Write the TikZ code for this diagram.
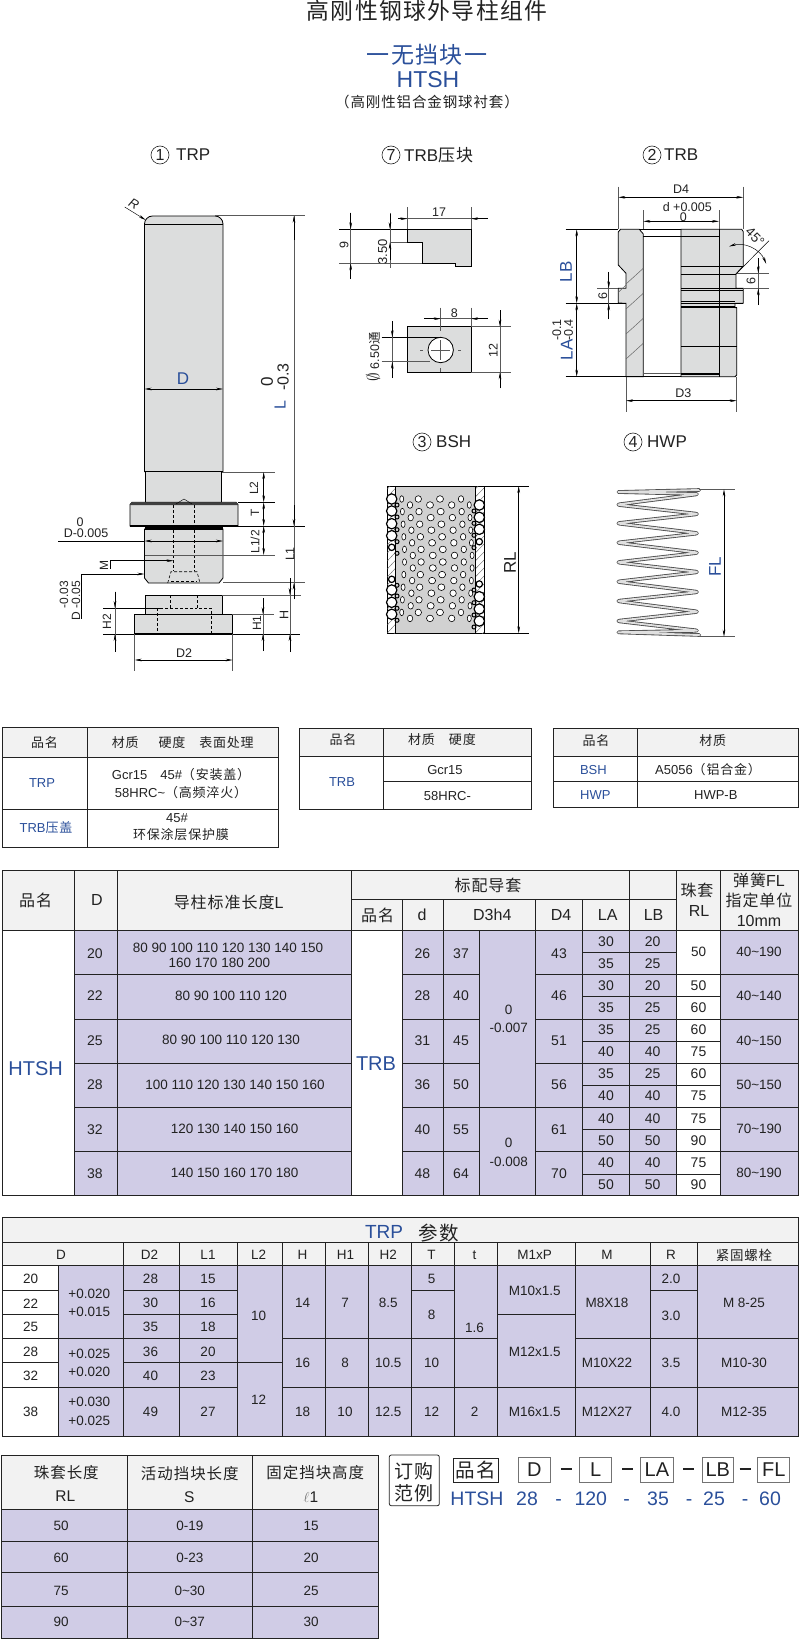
\documentclass[tikz,border=0pt]{standalone}
\usepackage{fontspec}
\setmainfont{Liberation Sans}
\newfontfamily\cjk[LetterSpace=6]{Noto Sans CJK SC}
\usetikzlibrary{arrows.meta,calc}
\newcommand{\fsz}[1]{\fontsize{#1}{#1}\selectfont}
\definecolor{partgray}{HTML}{DCDDDD}
\definecolor{lav}{HTML}{D0CCE6}
\definecolor{hdr}{HTML}{F2F2F2}
\definecolor{navy}{HTML}{2A4F9A}
\definecolor{ink}{HTML}{222222}
\tikzset{
  part/.style={draw=black,line width=.8pt,fill=partgray},
  hid/.style={draw=black,line width=.6pt,dash pattern=on 3pt off 2pt},
  dim/.style={draw=black,line width=.45pt,<->,>={Stealth[length=7pt,width=2.6pt]}},
  ptr/.style={draw=black,line width=.45pt,->,>={Stealth[length=7pt,width=2.6pt]}},
  ext/.style={draw=black!65,line width=.5pt},
  txt/.style={inner sep=0pt,text=ink,font=\fsz{13}},
  rot/.style={txt,rotate=90},
  blue/.style={inner sep=0pt,text=navy},
  numc/.style={circle,draw=ink,line width=.6pt,inner sep=0pt,minimum size=18pt,text=ink,font=\fsz{16}},
  ttl/.style={inner sep=0pt,anchor=west,text=ink,font=\fsz{17}},
  tline/.style={draw=ink,line width=.8pt},
  cellt/.style={inner sep=0pt,text=ink,font=\fsz{13.5}},
  headt/.style={inner sep=0pt,text=ink,font=\fsz{16}},
  obox/.style={draw=ink,line width=.8pt},
}
\begin{document}
\begin{tikzpicture}[x=1pt,y=-1pt]
  \useasboundingbox (0,0) rectangle (800,1640);
  %% titles
  \node[txt,font=\fsz{22.8}] (title) at (427,11) {\cjk 高刚性钢球外导柱组件};
  \node[blue,font=\fsz{23}] (sub1) at (427,55) {\cjk 一无挡块一};
  \node[blue,font=\fsz{23}] (sub2) at (428,80) {HTSH};
  \node[txt,font=\fsz{14.5}] (sub3) at (427,102) {\cjk （高刚性铝合金钢球衬套）};
  \foreach \cx/\cy/\cn/\tx/\tl [count=\ci] in {160/155/1/176/TRP,391/155/7/404/{TRB{\cjk 压块}},652/155/2/664/TRB,422/442/3/436/BSH,633/442/4/647/HWP}{
    \node[numc] (num\ci) at (\cx,\cy) {\cn};
    \node[ttl] (lab\ci) at (\tx,\cy) {\tl};
  }
  %% TRP post
  \draw[part] (144.5,471.7) -- (144.5,224) arc(180:270:8) -- (215,216) arc(270:360:8) -- (223,471.7) -- cycle;
  \draw[line width=.7pt] (144.5,224) -- (223,224);
  \draw[part] (145.7,471.7) rectangle (221.7,502.3);
  \draw[line width=1.2pt] (144.5,471.7) -- (223,471.7);
  \draw[part] (132,502.3) -- (236,502.3) -- (238,504.5) -- (238,526) -- (130,526) -- (130,504.5) -- cycle;
  \fill[black!75] (132,502.3) -- (236,502.3) -- (238,505) -- (130,505) -- cycle;
  \draw[part] (144.5,529) -- (223,529) -- (223,578) -- (219,583) -- (148.5,583) -- (144.5,578) -- cycle;
  \fill[black] (145,526) rectangle (223,529.5);
  \draw[line width=1.2pt] (130,526) -- (238,526);
  \draw[hid] (173.5,505) -- (173.5,571);
  \draw[hid] (194.3,505) -- (194.3,571);
  \draw[line width=.4pt] (176,504) -- (184,499) -- (192,504);
  \draw[hid] (167.7,583) -- (171,571.7) -- (197,571.7) -- (200,583);
  \draw[hid] (171,581.7) -- (197,581.7);
  %% base
  \draw[part] (145.7,595) rectangle (222.3,614.3);
  \draw[part] (134.7,614.3) rectangle (232.7,634);
  \draw[line width=1.2pt] (134.7,634) -- (232.7,634);
  \draw[hid] (170,595) -- (170,608) -- (161.7,608);
  \draw[hid] (197,595) -- (197,608) -- (211,608) -- (211,634);
  \draw[hid] (170,608) -- (197,608);
  \draw[hid] (157,608) -- (157,634);
  %% TRP dimensions
  \draw[ptr] (124.7,207) -- (145.7,220);
  \node[txt,rotate=-30,font=\fsz{13}] (dimR) at (134,204) {\itshape R};
  \draw[dim] (144.5,389) -- (223,389);
  \node[blue,font=\fsz{17}] (dimD) at (183,379) {D};
  \draw[ext] (215,215.7) -- (305,215.7);
  \draw[ext,black] (238,526) -- (305,526);
  \draw[ext] (223,582.7) -- (305,582.7);
  \draw[ext] (222,595) -- (300.7,595);
  \draw[ext] (222,472) -- (275,472);
  \draw[ext,black] (238,502.3) -- (275,502.3);
  \draw[ext] (144.5,555) -- (275,555);
  \draw[ext,line width=.8pt] (294,216) -- (294,599);
  \draw[ptr] (294,240) -- (294,215.7);
  \draw[ptr] (294,505) -- (294,526);
  \draw[ptr] (294,599) -- (294,582.7);
  \node[blue,rotate=90,font=\fsz{16}] (dimL) at (280,405) {L};
  \node[rot,font=\fsz{17}] (dimL0) at (267,382) {0};
  \node[rot,font=\fsz{16}] (dimL3) at (283,377) {-0.3};
  \node[rot,font=\fsz{12.5}] (dimL1) at (290,554) {L1};
  \draw[dim] (263.7,472) -- (263.7,502.3);
  \draw[dim] (263.7,502.3) -- (263.7,526);
  \draw[dim] (263.7,526) -- (263.7,555);
  \node[rot,font=\fsz{12}] (dimL2) at (254,488) {L2};
  \node[rot,font=\fsz{12}] (dimT) at (255,513) {T};
  \node[rot,font=\fsz{12}] (dimL12) at (255,541.7) {L1/2};
  \draw[ext] (232,614.3) -- (274,614.3);
  \draw[ext,black] (103,634) -- (300,634);
  \draw[ext] (263,598) -- (263,651);
  \draw[ptr] (263,598) -- (263,614.3);
  \draw[ptr] (263,651) -- (263,634);
  \node[rot,font=\fsz{12}] (dimH1) at (257,623) {H1};
  \draw[ext] (290,578) -- (290,652);
  \draw[ptr] (290,578) -- (290,595);
  \draw[ptr] (290,652) -- (290,634);
  \node[rot,font=\fsz{12.5}] (dimH) at (284,615) {H};
  \draw[ext,black] (103.3,608) -- (161.7,608);
  \draw[ext] (115,591.7) -- (115,651.7);
  \draw[ptr] (115,591.7) -- (115,608);
  \draw[ptr] (115,651.7) -- (115,634);
  \node[rot,font=\fsz{12}] (dimH2) at (107,621.7) {H2};
  \draw[ext] (134.7,634) -- (134.7,670.7);
  \draw[ext] (232.7,634) -- (232.7,670.7);
  \draw[dim] (134.7,660) -- (232.7,660);
  \node[txt,font=\fsz{12.5}] (dimD2) at (184,653) {D2};
  \draw[ext,black] (58,541) -- (144.5,541);
  \draw[dim] (144.5,541) -- (223,541);
  \node[txt,font=\fsz{12.5}] (dimD0) at (80,522) {0};
  \node[txt,font=\fsz{12.5}] (dimD5) at (86,533.5) {D-0.005};
  \draw[ptr,<-] (173.5,560.7) -- (110,560.7) -- (110,569);
  \node[rot,font=\fsz{12}] (dimM) at (104,565) {M};
  \draw[ptr,<-] (144.5,574) -- (81.7,574) -- (81.7,619);
  \node[rot,anchor=east,font=\fsz{12}] (dimD3) at (64,581) {-0.03};
  \node[rot,anchor=east,font=\fsz{12}] (dimD4) at (76,581) {D -0.05};
  %% TRB press block
  \draw[part] (407.3,229.3) -- (471,229.3) -- (471,266) -- (455.7,266) -- (455.7,263.3) -- (422.3,263.3) -- (422.3,242.3) -- (407.3,242.3) -- cycle;
  \draw[ext] (407.3,207.3) -- (407.3,229.3);
  \draw[ext] (471,207.3) -- (471,229.3);
  \draw[ext] (398,218.7) -- (487.7,218.7);
  \draw[ptr] (398,218.7) -- (407.3,218.7);
  \draw[ptr] (487.7,218.7) -- (471,218.7);
  \node[txt,font=\fsz{12.5}] (blk17) at (439,212) {17};
  \draw[ext,black] (339,229.3) -- (407.3,229.3);
  \draw[ext] (339,263.3) -- (422.3,263.3);
  \draw[ext] (350.7,212.7) -- (350.7,279);
  \draw[ptr] (350.7,212.7) -- (350.7,229.3);
  \draw[ptr] (350.7,279) -- (350.7,263.3);
  \node[rot,font=\fsz{12.5}] (blk9) at (344,245) {9};
  \draw[ext] (390,212.7) -- (390,268);
  \draw[ext] (390,242.3) -- (407.3,242.3);
  \draw[ptr] (390,214) -- (390,229.3);
  \draw[ptr] (390,260) -- (390,242.3);
  \node[rot,font=\fsz{13}] (blk35) at (382.7,251.7) {3.50};
  \draw[part] (407.3,326.7) rectangle (471,372.3);
  \draw[draw=black,fill=white,line width=.8pt] (440.7,350) circle (12.7);
  \draw[ext] (431,350) -- (450.4,350);
  \draw[ext] (440.7,340) -- (440.7,360);
  \draw[ext] (420,350) -- (423,350);
  \draw[ext] (458,350) -- (461,350);
  \draw[ext] (440.7,368) -- (440.7,372);
  \draw[ext] (440.7,307.7) -- (440.7,331);
  \draw[ext] (471,307.7) -- (471,326.7);
  \draw[ext] (424,318.7) -- (487.7,318.7);
  \draw[ptr] (424,318.7) -- (440.7,318.7);
  \draw[ptr] (487.7,318.7) -- (471,318.7);
  \node[txt,font=\fsz{12.5}] (blk8) at (454.3,313.3) {8};
  \draw[ext] (471,326.7) -- (511,326.7);
  \draw[ext] (471,372.3) -- (511,372.3);
  \draw[ext] (500,310) -- (500,388.3);
  \draw[ptr] (500,310) -- (500,326.7);
  \draw[ptr] (500,388.3) -- (500,372.3);
  \node[rot,font=\fsz{12.5}] (blk12) at (493.3,350.7) {12};
  \draw[ext,black] (381.7,337.3) -- (440.7,337.3);
  \draw[ext] (381.7,361.7) -- (430,361.7);
  \draw[ext] (392.3,321) -- (392.3,378);
  \draw[ptr] (392.3,321) -- (392.3,337.3);
  \draw[ptr] (392.3,378) -- (392.3,361.7);
  \node[rot,font=\fsz{12.5}] (blkp) at (373,356.7) {{\fsz{16}$\emptyset$} 6.50{\cjk 通}};
  %% TRB bush
  \draw[part] (618.3,232) -- (620.5,229.3) -- (639.3,229.3) -- (643.3,234) -- (643.3,376.7) -- (626,376.7) -- (626,303.3) -- (618.3,303) -- (618.3,288.3) -- (626,288.3) -- (626,273.3) -- (618.3,265) -- cycle;
  \foreach \ya/\yb in {284/268.3,309/293.3,334/318.3,359/343.3}
    \draw[draw=black!60,line width=.5pt] (626,\ya) -- (643.3,\yb);
  \draw[draw=black!60,line width=.5pt] (618.3,292.3) -- (626,285);
  \draw[part] (681,229.3) -- (741.7,229.3) -- (743.3,231.7) -- (743.3,266) -- (736,274) -- (736,288.3) -- (743.3,288.3) -- (743.3,303.3) -- (735,303.3) -- (735,307.7) -- (736.7,307.7) -- (736.7,375) -- (735,376.7) -- (681,376.7) -- cycle;
  \draw[line width=.7pt] (719,229.3) -- (719,376.7);
  \draw[line width=.6pt] (639,229.3) -- (681,229.3);
  \draw[line width=.6pt] (643.3,236.7) -- (719,236.7);
  \draw[ext] (643.3,373.3) -- (681,373.3);
  \draw[line width=.8pt] (626,376.7) -- (681,376.7);
  \foreach \yy/\xe/\ww in {266/743.3/.7,274/736/.7,288.3/743.3/.9,290.7/743.3/.9,301.7/735/.7,303.3/743.3/.9,306/735/.7,307.7/736.7/.9,346.7/736.7/.6,374/719/1.6}
    \draw[line width=\ww pt] (681,\yy) -- (\xe,\yy);
  \draw[ext] (618.3,186.7) -- (618.3,229.3);
  \draw[ext] (743.3,186.7) -- (743.3,229.3);
  \draw[dim] (618.3,197.3) -- (743.3,197.3);
  \node[txt,font=\fsz{12.5}] (trbD4) at (681,189) {D4};
  \draw[ext] (643.3,210) -- (643.3,229.3);
  \draw[ext] (719,210) -- (719,229.3);
  \draw[dim] (643.3,221.3) -- (719,221.3);
  \node[txt,font=\fsz{12.5}] (trbd) at (687.3,207.3) {d +0.005};
  \node[txt,font=\fsz{12.5}] (trbd0) at (683.3,217.3) {0};
  \draw[ext,black] (565.7,229.3) -- (618.3,229.3);
  \draw[ext,black] (565.7,303.3) -- (626,303.3);
  \draw[ext,black] (565.7,376.7) -- (626,376.7);
  \draw[dim] (576.7,229.3) -- (576.7,303.3);
  \draw[dim] (576.7,303.3) -- (576.7,376.7);
  \node[blue,rotate=90,font=\fsz{17}] (trbLB) at (566,271.7) {LB};
  \node[blue,rotate=90,font=\fsz{17}] (trbLA) at (566.7,350) {LA};
  \node[rot,font=\fsz{12.5}] (trbA1) at (556.7,330) {-0.1};
  \node[rot,font=\fsz{12.5}] (trbA4) at (568.5,330) {-0.4};
  \draw[ext] (597.3,288.3) -- (618.3,288.3);
  \draw[ext] (608.7,271.7) -- (608.7,319.3);
  \draw[ptr] (608.7,272) -- (608.7,288.3);
  \draw[ptr] (608.7,319.3) -- (608.7,303.3);
  \node[rot,font=\fsz{12.5}] (trb6l) at (602.7,295.7) {6};
  \draw[ext] (736,273.3) -- (769.3,273.3);
  \draw[ext] (743,288.3) -- (769.3,288.3);
  \draw[ext] (758.3,258.3) -- (758.3,305);
  \draw[ptr] (758.3,258.3) -- (758.3,273.3);
  \draw[ptr] (758.3,305) -- (758.3,288.3);
  \node[rot,font=\fsz{12.5}] (trb6r) at (751,281) {6};
  \draw[line width=.5pt] (736,274) -- (769,240.7);
  \draw[dim] ($(738.3,275)+(-108:30)$) arc(-108:-22:30);
  \node[txt,rotate=-45,font=\fsz{13.5}] (trb45) at (755,236.7) {45°};
  \draw[ext] (626,376.7) -- (626,411.7);
  \draw[ext] (736.7,376.7) -- (736.7,411.7);
  \draw[dim] (626,400.7) -- (736.7,400.7);
  \node[txt,font=\fsz{12.5}] (trbD3) at (683.3,393.3) {D3};
  %% BSH ball sleeve
  \draw[draw=black,line width=.8pt,fill=white] (387.3,486) rectangle (484,633.3);
  \begin{scope}
    \clip (387.3,486) rectangle (484,633.3);
    \foreach \hh in {480,488,...,640}{
      \draw[black!60,line width=.4pt] (387.3,\hh+9) -- (395.7,\hh);
      \draw[black!60,line width=.4pt] (475.3,\hh+9) -- (484,\hh);
    }
  \end{scope}
  \draw[draw=black,line width=.8pt,fill=black!18] (395.7,486) rectangle (475.3,633.3);
  \foreach \hx/\hy/\hr in {401.7/499/2,410/505/2.7,418.3/499/3.2,430/505/3.5,440/499/3.5,451.7/505/3.2,461/499/2.7,469.3/505/2}
    \foreach \rw in {0,...,9}{
      \pgfmathsetmacro\drift{0.7*min(\rw,9-\rw)}
      \draw[draw=black,fill=white,line width=.6pt] (\hx+\drift,\hy+12.6*\rw) ellipse [x radius=\hr,y radius=3.3];
    }
  \foreach \by/\br in {499/5.2,511/5.2,523.7/5.2,535.7/5.2,547.3/3.2,579.3/3.2,590/5.2,602.3/5.2,614.3/5.2}{
    \draw[draw=black,line width=1pt] (397,\by+6) circle (2);
    \draw[draw=black,fill=white,line width=1.2pt] (391.7,\by) circle (\br);
  }
  \foreach \by/\br in {505/5.2,517.3/5.2,529.3/5.2,541.7/3.2,584/3.2,596.7/5.2,609/5.2,621/5.2}{
    \draw[draw=black,line width=1pt] (474,\by+6) circle (2);
    \draw[draw=black,fill=white,line width=1.2pt] (479.3,\by) circle (\br);
  }
  \draw[ext,black] (484,486) -- (529.3,486);
  \draw[ext,black] (484,633.3) -- (529.3,633.3);
  \draw[dim] (518.7,486) -- (518.7,633.3);
  \node[rot,font=\fsz{17}] (bshRL) at (510,562.7) {RL};
  %% HWP spring
  \def\coilpath{(699.3,490) -- (616,492) -- (699.3,494) -- (616,504.7) -- (699.3,514) -- (616,523.3) -- (699.3,533.3) -- (616,542.7) -- (699.3,552.7) -- (616,562.3) -- (699.3,572) -- (616,581.7) -- (699.3,592) -- (616,601) -- (699.3,611.7) -- (616,621) -- (699.3,630.7) -- (616,632.3) -- (699.3,635)}
  \draw[black!70,line width=3.6pt,rounded corners=4pt,line cap=round,line join=round] \coilpath;
  \draw[black!12,line width=1.9pt,rounded corners=4pt,line cap=round,line join=round] \coilpath;
  \draw[ext] (699,489.3) -- (735,489.3);
  \draw[ext] (699,636.7) -- (735,636.7);
  \draw[dim] (724,489.3) -- (724,636.7);
  \node[blue,rotate=90,font=\fsz{17}] (hwpFL) at (715,566.7) {FL};
  %% material tables
  \fill[hdr] (2.5,727.3) rectangle (278.5,757.3);
  \fill[hdr] (299.5,728.3) rectangle (531.6,756);
  \fill[hdr] (553.6,728.3) rectangle (798.5,756);
  \draw[tline] (2.5,727.3) rectangle (278.5,847.3);
  \draw[tline] (299.5,728.3) rectangle (531.6,809);
  \draw[tline] (553.6,728.3) rectangle (798.5,807.7);
  \foreach \xa/\ya/\xb/\yb in {87/727.3/87/847.3,2.5/757.3/278.5/757.3,2.5/809.3/278.5/809.3,383.7/728.3/383.7/809,299.5/756/531.6/756,383.7/781.3/531.6/781.3,637.2/728.3/637.2/807.7,553.6/756/798.5/756,553.6/781.3/798.5/781.3}
    \draw[tline] (\xa,\ya) -- (\xb,\yb);
  \foreach \tx/\ty/\tl [count=\ti] in {44.4/742.3/{\cjk 品名},182.7/743/{\cjk 材质\hspace{20pt}硬度\hspace{14pt}表面处理},181/775/{Gcr15\quad 45\#{\cjk （安装盖）}},181/792.7/{58HRC\textasciitilde{\cjk （高频淬火）}},177/818.3/{45\#},181/835/{\cjk 环保涂层保护膜},343/740/{\cjk 品名},442/740/{\cjk 材质\hspace{14pt}硬度},445/770/{Gcr15},447.4/795.7/{58HRC-},596/740.7/{\cjk 品名},712.8/740.7/{\cjk 材质},708/770/{A5056{\cjk （铝合金）}},715.8/795/{HWP-B}}
    \node[cellt,font=\fsz{13}] (mat\ti) at (\tx,\ty) {\tl};
  \foreach \tx/\ty/\tl [count=\ti] in {42/782.7/TRP,46/828/{TRB{\cjk 压盖}},342/782/TRB,593.4/770/BSH,595.4/795/HWP}
    \node[blue,font=\fsz{13}] (mbl\ti) at (\tx,\ty) {\tl};
  %% standard table
  \fill[hdr] (2.5,870) rectangle (798.5,930.3);
  \fill[lav] (74.5,930.3) rectangle (351.5,1195.7);
  \fill[lav] (402,930.3) rectangle (676.5,1195.7);
  \fill[lav] (720.4,930.3) rectangle (798.5,1195.7);
  \draw[tline] (2.5,870) rectangle (798.5,1195.7);
  \draw[tline] (2.5,930.3) -- (798.5,930.3);
  \draw[tline] (351.5,899.3) -- (676.5,899.3);
  \foreach \xx in {74.5,117.3,351.5,629.6,676.5,720.4}
    \draw[tline] (\xx,870) -- (\xx,1195.7);
  \foreach \xx in {402,443.4,535.7,582.7}
    \draw[tline] (\xx,899.3) -- (\xx,1195.7);
  \draw[tline] (479.6,930.3) -- (479.6,1195.7);
  \foreach \yy in {974.3,1019,1063,1107.3,1151.7}{
    \draw[tline] (74.5,\yy) -- (351.5,\yy);
    \draw[tline] (402,\yy) -- (479.6,\yy);
    \draw[tline] (535.7,\yy) -- (798.5,\yy);
  }
  \draw[tline] (479.6,1107.3) -- (535.7,1107.3);
  \draw[tline] (582.7,952.3) -- (676.5,952.3);
  \foreach \yy in {996.7,1041.3,1085.3,1129.3,1174}
    \draw[tline] (582.7,\yy) -- (720.4,\yy);
  \foreach \tx/\ty/\tl [count=\ti] in {35.7/900/{\cjk 品名},97/900/D,228.6/902.7/{{\cjk 导柱标准长度}L},488/885/{\cjk 标配导套},377.6/915/{\cjk 品名},422/915/d,492.3/915/D3h4,561/915/D4,607.7/915/LA,653.6/915/LB,697/890/{\cjk 珠套},699/910.7/RL,759/880.7/{{\cjk 弹簧}FL},759/900/{\cjk 指定单位},759/921/10mm}
    \node[headt] (bigh\ti) at (\tx,\ty) {\tl};
  \node[blue,font=\fsz{20}] (bigHTSH) at (35.7,1068.3) {HTSH};
  \node[blue,font=\fsz{20}] (bigTRB) at (376,1064) {TRB};
  \foreach \rowy/\da/\ddd/\db/\dd in {954/20/26/37/43,996/22/28/40/46,1040.3/25/31/45/51,1085/28/36/50/56,1129.3/32/40/55/61,1173.3/38/48/64/70}{
    \node[cellt,font=\fsz{14}] (dD\da) at (95,\rowy) {\da};
    \node[cellt,font=\fsz{14}] (dd\da) at (422.4,\rowy) {\ddd};
    \node[cellt,font=\fsz{14}] (dh\da) at (461,\rowy) {\db};
    \node[cellt,font=\fsz{14}] (df\da) at (559,\rowy) {\dd};
  }
  \foreach \tx/\ty/\tl [count=\ti] in {228/948/{80 90 100 110 120 130 140 150},219.4/962.7/{160 170 180 200},231/996/{80 90 100 110 120},231/1040.3/{80 90 100 110 120 130},235/1085/{100 110 120 130 140 150 160},234.7/1129.3/{120 130 140 150 160},234.7/1173.3/{140 150 160 170 180},508.7/1010/0,508.7/1028.3/-0.007,508.7/1143.3/0,508.7/1161.7/-0.008,759/952.3/{40\textasciitilde190},759/996/{40\textasciitilde140},759/1041/{40\textasciitilde150},759/1085/{50\textasciitilde150},759/1129.3/{70\textasciitilde190},759/1173.3/{80\textasciitilde190},698.5/952.3/50}
    \node[cellt] (lens\ti) at (\tx,\ty) {\tl};
  \foreach \yy/\la/\lb/\rl [count=\ti] in {941.3/30/20/,963.3/35/25/,985.3/30/20/50,1007.3/35/25/60,1030/35/25/60,1052/40/40/75,1074/35/25/60,1096/40/40/75,1118.3/40/40/75,1140.3/50/50/90,1162.3/40/40/75,1184.3/50/50/90}{
    \node[cellt,font=\fsz{14}] (la\ti) at (606,\yy) {\la};
    \node[cellt,font=\fsz{14}] (lb\ti) at (652.6,\yy) {\lb};
    \node[cellt,font=\fsz{14}] (rl\ti) at (698.5,\yy) {\rl};
  }
  %% TRP parameter table
  \fill[hdr] (2.5,1217.3) rectangle (798.5,1265.7);
  \fill[lav] (58.7,1265.7) rectangle (798.5,1436.7);
  \draw[tline] (2.5,1217.3) rectangle (798.5,1436.7);
  \draw[tline] (2.5,1242.3) -- (798.5,1242.3);
  \draw[tline] (2.5,1265.7) -- (798.5,1265.7);
  \foreach \xx in {123.5,179.6,237.8,282,325.5,368.4,411.7,454,497.4,575.5,650.5,697}
    \draw[tline] (\xx,1242.3) -- (\xx,1436.7);
  \draw[tline] (58.7,1265.7) -- (58.7,1436.7);
  \foreach \xa/\xb/\yy in {2.5/58.7/1290,123.5/237.8/1290,411.7/454/1290,650.5/697/1290,2.5/58.7/1314.3,123.5/237.8/1314.3,497.4/575.5/1314.3,2.5/237.8/1338.3,282/497.4/1338.3,575.5/798.5/1338.3,2.5/58.7/1362.7,123.5/282/1362.7,2.5/237.8/1387,282/798.5/1387}
    \draw[tline] (\xa,\yy) -- (\xb,\yy);
  \node[blue,font=\fsz{19}] (trpT) at (384,1231.7) {TRP};
  \node[txt,font=\fsz{19.5}] (trpC) at (439,1232.7) {\cjk 参数};
  \foreach \tx/\tl [count=\ti] in {61/D,149.5/D2,208/L1,258.7/L2,302.6/H,345.4/H1,388.3/H2,431.6/T,474.5/t,534.7/M1xP,607/M,671/R,744/{\cjk 紧固螺栓}}
    \node[cellt] (trph\ti) at (\tx,1255) {\tl};
  \foreach \tx/\ty/\tl [count=\ti] in {30.6/1279/20,30.6/1303.3/22,30.6/1327.3/25,30.6/1351.7/28,30.6/1376/32,30.6/1411.7/38,89.3/1293.7/+0.020,89.3/1311.7/+0.015,89.3/1354.3/+0.025,89.3/1372.3/+0.020,89.3/1402.3/+0.030,89.3/1420.7/+0.025,150.5/1279/28,150.5/1303.3/30,150.5/1327.3/35,150.5/1351.7/36,150.5/1376/40,150.5/1411.7/49,208/1279/15,208/1303.3/16,208/1327.3/18,208/1351.7/20,208/1376/23,208/1411.7/27,258.7/1315.7/10,258.7/1400/12,302.6/1303.3/14,302.6/1363.3/16,302.6/1411.7/18,345/1303.3/7,345/1363.3/8,345/1411.7/10,388.3/1303.3/8.5,388.3/1363.3/10.5,388.3/1411.7/12.5,431.6/1279/5,431.6/1315/8,431.6/1363.3/10,431.6/1411.7/12,474.5/1327.7/1.6,474.5/1411.7/2,534.7/1290.7/M10x1.5,534.7/1351.7/M12x1.5,534.7/1411.7/M16x1.5,607/1303.3/M8X18,607/1363.3/M10X22,607/1411.7/M12X27,671/1279/2.0,671/1315.7/3.0,671/1363.3/3.5,671/1411.7/4.0,744/1303.3/{M 8-25},744/1363.3/M10-30,744/1411.7/M12-35}
    \node[cellt] (trpc\ti) at (\tx,\ty) {\tl};
  %% bearing length table
  \fill[hdr] (1.5,1455) rectangle (378.6,1509);
  \fill[lav] (1.5,1509) rectangle (378.6,1638.7);
  \draw[tline] (1.5,1455) rectangle (378.6,1638.7);
  \foreach \xx in {127.6,252.6}
    \draw[tline] (\xx,1455) -- (\xx,1638.7);
  \foreach \yy in {1509,1541.3,1572.7,1606.7}
    \draw[tline] (1.5,\yy) -- (378.6,\yy);
  \foreach \tx/\ty/\tl [count=\ti] in {66.3/1472.3/{\cjk 珠套长度},65.3/1496/RL,189.8/1473.3/{\cjk 活动挡块长度},189.3/1497.3/S,315.3/1473/{\cjk 固定挡块高度},311/1497/{{\color{black!55}$\ell$}1}}
    \node[cellt,font=\fsz{15.5}] (rlh\ti) at (\tx,\ty) {\tl};
  \foreach \yy/\ca/\cb/\cc [count=\ti] in {1526.3/50/0-19/15,1558.3/60/0-23/20,1590.7/75/{0\textasciitilde30}/25,1622.3/90/{0\textasciitilde37}/30}{
    \node[cellt] (rla\ti) at (61.2,\yy) {\ca};
    \node[cellt] (rlb\ti) at (189.8,\yy) {\cb};
    \node[cellt] (rlc\ti) at (311.2,\yy) {\cc};
  }
  %% order example
  \draw[obox,rounded corners=2pt] (389.3,1455) rectangle (439.3,1505.7);
  \node[txt,font=\fsz{19}] (ordA) at (414,1471.7) {\cjk 订购};
  \node[txt,font=\fsz{19}] (ordB) at (414,1493.3) {\cjk 范例};
  \draw[obox] (453,1458.3) rectangle (498.5,1482.3);
  \node[txt,font=\fsz{19.5}] (ordC) at (476,1470.5) {\cjk 品名};
  \foreach \xa/\xb/\tl in {518.4/550.5/D,579.6/611.7/L,640.8/673/LA,702/733.7/LB,757.6/789.8/FL}{
    \draw[obox,draw=black!55] (\xa,1457.3) rectangle (\xb,1482.3);
    \node[txt,font=\fsz{20}] (box\tl) at ({(\xa+\xb)/2},1470) {\tl};
  }
  \foreach \xx in {566.3,627.5,688.8,745}
    \draw[line width=1.2pt,ink] (\xx-5.5,1469) -- (\xx+5.5,1469);
  \foreach \tx/\tl [count=\ti] in {477/HTSH,527/28,558.7/-,590.8/120,626.5/-,658/35,689/-,714/25,745/-,770/60}
    \node[blue,font=\fsz{19.5},text height=14pt,text depth=0pt] (ordv\ti) at (\tx,1498.3) {\tl};
\end{tikzpicture}
\end{document}
